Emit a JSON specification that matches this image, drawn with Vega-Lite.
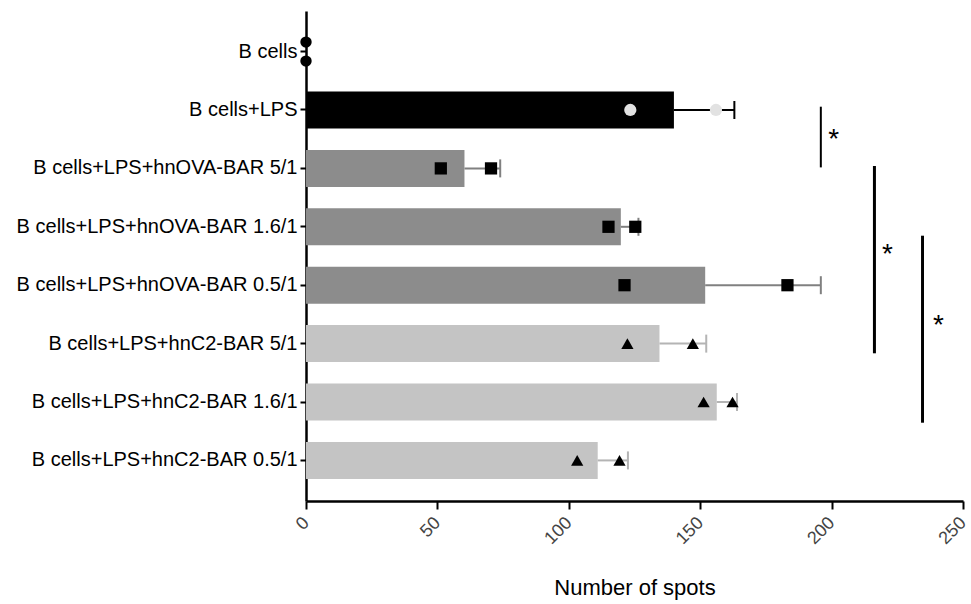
{
  "$schema": "https://vega.github.io/schema/vega-lite/v6.json",
  "autosize": "none",
  "width": 657,
  "height": 490,
  "padding": {"left": 306, "top": 11, "right": 8, "bottom": 103},
  "background": "white",
  "config": {
    "font": "Liberation Sans",
    "view": {"stroke": null}
  },
  "datasets": {
    "bars": [
      {"label": "B cells", "group": "B cells", "mean": 0, "upper": 0},
      {"label": "B cells+LPS", "group": "LPS", "mean": 140, "upper": 163},
      {"label": "B cells+LPS+hnOVA-BAR 5/1", "group": "hnOVA", "mean": 60.3, "upper": 73.9},
      {"label": "B cells+LPS+hnOVA-BAR 1.6/1", "group": "hnOVA", "mean": 119.8, "upper": 126.5},
      {"label": "B cells+LPS+hnOVA-BAR 0.5/1", "group": "hnOVA", "mean": 151.9, "upper": 195.9},
      {"label": "B cells+LPS+hnC2-BAR 5/1", "group": "hnC2", "mean": 134.5, "upper": 152.3},
      {"label": "B cells+LPS+hnC2-BAR 1.6/1", "group": "hnC2", "mean": 156.3, "upper": 164},
      {"label": "B cells+LPS+hnC2-BAR 0.5/1", "group": "hnC2", "mean": 111, "upper": 122.5}
    ],
    "points": [
      {"label": "B cells", "series": "B cells", "rep": 1, "value": 0},
      {"label": "B cells", "series": "B cells", "rep": 2, "value": 0},
      {"label": "B cells+LPS", "series": "LPS", "rep": 1, "value": 123.4},
      {"label": "B cells+LPS", "series": "LPS", "rep": 2, "value": 156},
      {"label": "B cells+LPS+hnOVA-BAR 5/1", "series": "hnOVA", "rep": 1, "value": 51.3},
      {"label": "B cells+LPS+hnOVA-BAR 5/1", "series": "hnOVA", "rep": 2, "value": 70.4},
      {"label": "B cells+LPS+hnOVA-BAR 1.6/1", "series": "hnOVA", "rep": 1, "value": 115.1},
      {"label": "B cells+LPS+hnOVA-BAR 1.6/1", "series": "hnOVA", "rep": 2, "value": 125.3},
      {"label": "B cells+LPS+hnOVA-BAR 0.5/1", "series": "hnOVA", "rep": 1, "value": 121.2},
      {"label": "B cells+LPS+hnOVA-BAR 0.5/1", "series": "hnOVA", "rep": 2, "value": 183.2},
      {"label": "B cells+LPS+hnC2-BAR 5/1", "series": "hnC2", "rep": 1, "value": 122.3},
      {"label": "B cells+LPS+hnC2-BAR 5/1", "series": "hnC2", "rep": 2, "value": 147.2},
      {"label": "B cells+LPS+hnC2-BAR 1.6/1", "series": "hnC2", "rep": 1, "value": 151.3},
      {"label": "B cells+LPS+hnC2-BAR 1.6/1", "series": "hnC2", "rep": 2, "value": 162.3},
      {"label": "B cells+LPS+hnC2-BAR 0.5/1", "series": "hnC2", "rep": 1, "value": 103.2},
      {"label": "B cells+LPS+hnC2-BAR 0.5/1", "series": "hnC2", "rep": 2, "value": 119.3}
    ],
    "sig": [
      {"id": 1, "x": 195.9, "label": "B cells+LPS", "label2": "B cells+LPS+hnOVA-BAR 5/1", "mark": "*"},
      {"id": 2, "x": 216.3, "label": "B cells+LPS+hnOVA-BAR 5/1", "label2": "B cells+LPS+hnC2-BAR 5/1", "mark": "*"},
      {"id": 3, "x": 234.6, "label": "B cells+LPS+hnOVA-BAR 1.6/1", "label2": "B cells+LPS+hnC2-BAR 1.6/1", "mark": "*"}
    ]
  },
  "encoding": {
    "y": {
      "field": "label",
      "type": "nominal",
      "title": null,
      "scale": {
        "domain": ["B cells", "B cells+LPS", "B cells+LPS+hnOVA-BAR 5/1", "B cells+LPS+hnOVA-BAR 1.6/1", "B cells+LPS+hnOVA-BAR 0.5/1", "B cells+LPS+hnC2-BAR 5/1", "B cells+LPS+hnC2-BAR 1.6/1", "B cells+LPS+hnC2-BAR 0.5/1"],
        "paddingInner": 0.366,
        "paddingOuter": 0.378
      },
      "axis": {
        "domainColor": "black",
        "domainWidth": 2.5,
        "tickColor": "black",
        "tickWidth": 2,
        "tickSize": 6,
        "labelFontSize": 20,
        "labelColor": "black",
        "labelPadding": 3,
        "labelLimit": 400,
        "grid": false
      }
    }
  },
  "layer": [
    {
      "data": {"name": "bars"},
      "mark": {"type": "bar"},
      "encoding": {
        "x": {
          "field": "mean",
          "type": "quantitative",
          "title": "Number of spots",
          "scale": {"domain": [0, 250], "nice": false},
          "axis": {
            "values": [0, 50, 100, 150, 200, 250],
            "grid": false,
            "domainColor": "black",
            "domainWidth": 2.5,
            "tickColor": "black",
            "tickWidth": 2,
            "tickSize": 8,
            "labelFontSize": 18,
            "labelColor": "#444444",
            "labelAngle": -45,
            "labelAlign": "right",
            "labelBaseline": "middle",
            "labelPadding": 11,
            "titleFontSize": 22,
            "titleFontWeight": "normal",
            "titleColor": "black",
            "titlePadding": 30
          }
        },
        "fill": {
          "field": "group",
          "type": "nominal",
          "scale": {"domain": ["B cells", "LPS", "hnOVA", "hnC2"], "range": ["#000000", "#000000", "#8c8c8c", "#c4c4c4"]},
          "legend": null
        }
      }
    },
    {
      "data": {"name": "bars"},
      "transform": [{"filter": "datum.upper > datum.mean"}],
      "mark": {"type": "rule", "strokeWidth": 2},
      "encoding": {
        "x": {"field": "mean", "type": "quantitative", "title": "Number of spots"},
        "x2": {"field": "upper"},
        "stroke": {
          "field": "group",
          "type": "nominal",
          "scale": {"domain": ["B cells", "LPS", "hnOVA", "hnC2"], "range": ["#000000", "#000000", "#808080", "#b4b4b4"]},
          "legend": null
        }
      }
    },
    {
      "data": {"name": "bars"},
      "transform": [{"filter": "datum.upper > datum.mean"}],
      "mark": {"type": "rule", "strokeWidth": 2, "yOffset": -9, "y2Offset": 9},
      "encoding": {
        "x": {"field": "upper", "type": "quantitative", "title": "Number of spots"},
        "y2": {"field": "label"},
        "stroke": {"field": "group", "type": "nominal", "legend": null}
      }
    },
    {
      "data": {"name": "points"},
      "transform": [{"filter": "datum.series != 'B cells'"}],
      "mark": {"type": "point", "filled": true, "opacity": 1, "size": 150},
      "encoding": {
        "x": {"field": "value", "type": "quantitative", "title": "Number of spots"},
        "color": {
          "field": "series",
          "type": "nominal",
          "scale": {"domain": ["B cells", "LPS", "hnOVA", "hnC2"], "range": ["#000000", "#e2e2e2", "#000000", "#000000"]},
          "legend": null
        },
        "shape": {
          "field": "series",
          "type": "nominal",
          "scale": {"domain": ["B cells", "LPS", "hnOVA", "hnC2"], "range": ["circle", "circle", "square", "triangle-up"]},
          "legend": null
        }
      }
    },
    {
      "data": {"name": "points"},
      "transform": [{"filter": "datum.series == 'B cells' && datum.rep == 1"}],
      "mark": {"type": "point", "filled": true, "opacity": 1, "size": 130, "yOffset": -9.5},
      "encoding": {
        "x": {"field": "value", "type": "quantitative", "title": "Number of spots"},
        "color": {"field": "series", "type": "nominal", "legend": null},
        "shape": {"field": "series", "type": "nominal", "legend": null}
      }
    },
    {
      "data": {"name": "points"},
      "transform": [{"filter": "datum.series == 'B cells' && datum.rep == 2"}],
      "mark": {"type": "point", "filled": true, "opacity": 1, "size": 130, "yOffset": 9.5},
      "encoding": {
        "x": {"field": "value", "type": "quantitative", "title": "Number of spots"},
        "color": {"field": "series", "type": "nominal", "legend": null},
        "shape": {"field": "series", "type": "nominal", "legend": null}
      }
    },
    {
      "data": {"name": "sig"},
      "transform": [{"filter": "datum.id == 1"}],
      "layer": [
        {
          "mark": {"type": "rule", "color": "black", "strokeWidth": 2, "yOffset": -3.3, "y2Offset": -1},
          "encoding": {
            "x": {"field": "x", "type": "quantitative", "title": "Number of spots"},
            "y2": {"field": "label2"}
          }
        },
        {
          "mark": {"type": "text", "fontSize": 28, "color": "black", "align": "center", "baseline": "middle", "dx": 13, "yOffset": 30},
          "encoding": {
            "x": {"field": "x", "type": "quantitative", "title": "Number of spots"},
            "text": {"field": "mark"}
          }
        }
      ]
    },
    {
      "data": {"name": "sig"},
      "transform": [{"filter": "datum.id == 2"}],
      "layer": [
        {
          "mark": {"type": "rule", "color": "black", "strokeWidth": 3, "yOffset": -2.4, "y2Offset": 9.7},
          "encoding": {
            "x": {"field": "x", "type": "quantitative", "title": "Number of spots"},
            "y2": {"field": "label2"}
          }
        },
        {
          "mark": {"type": "text", "fontSize": 28, "color": "black", "align": "center", "baseline": "middle", "dx": 13, "yOffset": 87},
          "encoding": {
            "x": {"field": "x", "type": "quantitative", "title": "Number of spots"},
            "text": {"field": "mark"}
          }
        }
      ]
    },
    {
      "data": {"name": "sig"},
      "transform": [{"filter": "datum.id == 3"}],
      "layer": [
        {
          "mark": {"type": "rule", "color": "black", "strokeWidth": 3, "yOffset": 8.9, "y2Offset": 20.7},
          "encoding": {
            "x": {"field": "x", "type": "quantitative", "title": "Number of spots"},
            "y2": {"field": "label2"}
          }
        },
        {
          "mark": {"type": "text", "fontSize": 28, "color": "black", "align": "center", "baseline": "middle", "dx": 16, "yOffset": 99},
          "encoding": {
            "x": {"field": "x", "type": "quantitative", "title": "Number of spots"},
            "text": {"field": "mark"}
          }
        }
      ]
    }
  ]
}
